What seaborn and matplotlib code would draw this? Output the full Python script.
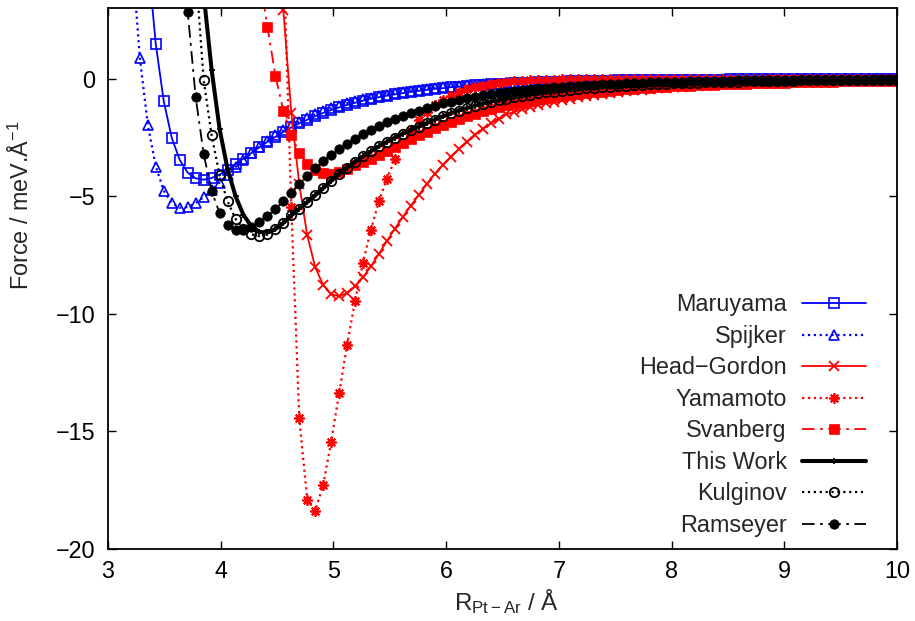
import numpy as np
import pandas as pd
import matplotlib
matplotlib.use("Agg")
import matplotlib.pyplot as plt
import seaborn as sns

nan = np.nan

# Sampling of the distance axis (gnuplot-style 100 samples from 3 to 10 Angstrom)
R_START, R_STOP, N_SAMPLES = 3.0, 10.0, 100

x_ticks = [3, 4, 5, 6, 7, 8, 9, 10]
y_ticks = [-20, -15, -10, -5, 0]

maruyama = [nan, nan, nan, nan, nan, 5.10, 1.45, -0.97, -2.52, -3.46,
            -4.00, -4.24, -4.30, -4.23, -4.08, -3.88, -3.65, -3.40, -3.16, -2.92,
            -2.69, -2.48, -2.27, -2.08, -1.91, -1.75, -1.60, -1.46, -1.34, -1.23,
            -1.12, -1.03, -0.94, -0.86, -0.79, -0.73, -0.67, -0.62, -0.57, -0.52,
            -0.48, -0.44, -0.41, -0.37, -0.35, -0.32, -0.29, -0.27, -0.25, -0.23,
            -0.22, -0.20, -0.19, -0.18, -0.16, -0.15, -0.14, -0.13, -0.12, -0.11,
            -0.11, -0.10, -0.09, -0.09, -0.08, -0.08, -0.07, -0.07, -0.06, -0.06,
            -0.06, -0.05, -0.05, -0.05, -0.04, -0.04, -0.04, -0.04, -0.03, -0.03,
            -0.03, -0.03, -0.03, -0.03, -0.02, -0.02, -0.02, -0.02, -0.02, -0.02,
            -0.02, -0.02, -0.01, -0.01, -0.01, -0.01, -0.01, -0.01, -0.01, -0.01]

spijker = [nan, nan, nan, 5.30, 0.87, -1.98, -3.74, -4.77, -5.29, -5.49,
           -5.46, -5.30, -5.04, -4.75, -4.42, -4.10, -3.77, -3.47, -3.17, -2.90,
           -2.65, -2.42, -2.20, -2.01, -1.83, -1.67, -1.52, -1.38, -1.26, -1.15,
           -1.05, -0.96, -0.88, -0.81, -0.74, -0.68, -0.62, -0.57, -0.52, -0.48,
           -0.44, -0.40, -0.37, -0.34, -0.32, -0.29, -0.27, -0.25, -0.23, -0.21,
           -0.20, -0.19, -0.17, -0.16, -0.15, -0.14, -0.13, -0.12, -0.11, -0.10,
           -0.10, -0.09, -0.09, -0.08, -0.07, -0.07, -0.07, -0.06, -0.06, -0.05,
           -0.05, -0.05, -0.04, -0.04, -0.04, -0.04, -0.04, -0.03, -0.03, -0.03,
           -0.03, -0.03, -0.03, -0.03, -0.02, -0.02, -0.02, -0.02, -0.02, -0.02,
           -0.02, -0.02, -0.01, -0.01, -0.01, -0.01, -0.01, -0.01, -0.01, -0.01]

head_gordon = [nan, nan, nan, nan, nan, nan, nan, nan, nan, nan,
               nan, nan, nan, nan, nan, nan, nan, nan, nan, nan,
               nan, 9.50, 2.90, -1.45, -4.50, -6.66, -8.02, -8.78, -9.17, -9.25,
               -9.12, -8.84, -8.45, -7.98, -7.45, -6.90, -6.38, -5.88, -5.40, -4.95,
               -4.48, -4.05, -3.67, -3.32, -3.00, -2.68, -2.39, -2.14, -1.91, -1.70,
               -1.52, -1.41, -1.31, -1.21, -1.13, -1.05, -0.98, -0.91, -0.85, -0.79,
               -0.74, -0.69, -0.65, -0.60, -0.57, -0.53, -0.50, -0.47, -0.44, -0.41,
               -0.39, -0.36, -0.34, -0.32, -0.30, -0.28, -0.27, -0.25, -0.24, -0.22,
               -0.21, -0.20, -0.19, -0.18, -0.17, -0.16, -0.15, -0.14, -0.14, -0.13,
               -0.12, -0.12, -0.11, -0.10, -0.10, -0.09, -0.09, -0.09, -0.08, -0.08]

yamamoto = [nan, nan, nan, nan, nan, nan, nan, nan, nan, nan,
            nan, nan, nan, nan, nan, nan, nan, nan, nan, nan,
            nan, nan, 5.50, -5.46, -14.45, -17.91, -18.37, -17.28, -15.44, -13.38,
            -11.33, -9.45, -7.82, -6.42, -5.21, -4.26, -3.44, -2.76, -2.21, -1.77,
            -1.41, -1.13, -0.90, -0.72, -0.58, -0.46, -0.37, -0.30, -0.24, -0.19,
            -0.15, -0.12, -0.10, -0.08, -0.06, -0.05, -0.04, -0.03, -0.03, -0.02,
            -0.02, -0.01, -0.01, -0.01, -0.01, -0.01, -0.01, -0.01, -0.01, -0.01,
            -0.01, 0.00, 0.00, 0.00, 0.00, 0.00, 0.00, 0.00, 0.00, 0.00,
            0.00, 0.00, 0.00, 0.00, 0.00, 0.00, 0.00, 0.00, 0.00, 0.00,
            0.00, 0.00, 0.00, 0.00, 0.00, 0.00, 0.00, 0.00, 0.00, 0.00]

svanberg = [nan, nan, nan, nan, nan, nan, nan, nan, nan, nan,
            nan, nan, nan, nan, nan, nan, nan, nan, nan, 4.40,
            2.21, 0.13, -1.36, -2.42, -3.15, -3.62, -3.88, -4.02, -4.05, -3.98,
            -3.84, -3.69, -3.55, -3.40, -3.25, -3.10, -2.93, -2.76, -2.59, -2.42,
            -2.26, -2.11, -1.97, -1.84, -1.71, -1.60, -1.49, -1.39, -1.30, -1.22,
            -1.14, -1.07, -1.00, -0.94, -0.88, -0.83, -0.78, -0.74, -0.69, -0.65,
            -0.62, -0.58, -0.55, -0.52, -0.49, -0.46, -0.44, -0.41, -0.39, -0.37,
            -0.35, -0.33, -0.32, -0.30, -0.29, -0.27, -0.26, -0.25, -0.23, -0.22,
            -0.21, -0.20, -0.19, -0.18, -0.17, -0.17, -0.16, -0.15, -0.14, -0.14,
            -0.13, -0.13, -0.12, -0.12, -0.11, -0.11, -0.10, -0.10, -0.09, -0.09]

this_work = [nan, nan, nan, nan, nan, nan, nan, nan, nan, nan,
             nan, nan, 3.60, 0.38, -2.14, -3.85, -5.00, -5.80, -6.28, -6.52,
             -6.55, -6.40, -6.14, -5.82, -5.53, -5.25, -4.97, -4.66, -4.35, -4.06,
             -3.80, -3.55, -3.31, -3.09, -2.88, -2.69, -2.51, -2.34, -2.18, -2.04,
             -1.90, -1.75, -1.61, -1.48, -1.36, -1.26, -1.16, -1.07, -0.99, -0.92,
             -0.85, -0.79, -0.73, -0.68, -0.63, -0.59, -0.55, -0.51, -0.48, -0.44,
             -0.41, -0.39, -0.36, -0.34, -0.32, -0.30, -0.28, -0.26, -0.24, -0.23,
             -0.22, -0.20, -0.19, -0.18, -0.17, -0.16, -0.15, -0.14, -0.13, -0.13,
             -0.12, -0.11, -0.11, -0.10, -0.09, -0.09, -0.09, -0.08, -0.08, -0.07,
             -0.07, -0.07, -0.06, -0.06, -0.06, -0.05, -0.05, -0.05, -0.05, -0.04]

kulginov = [nan, nan, nan, nan, nan, nan, nan, nan, nan, nan,
            nan, 4.60, -0.05, -2.42, -4.10, -5.22, -5.96, -6.40, -6.62, -6.70,
            -6.60, -6.40, -6.12, -5.82, -5.53, -5.25, -4.97, -4.66, -4.35, -4.06,
            -3.80, -3.55, -3.31, -3.09, -2.88, -2.69, -2.51, -2.34, -2.18, -2.04,
            -1.90, -1.75, -1.61, -1.48, -1.36, -1.26, -1.16, -1.07, -0.99, -0.92,
            -0.85, -0.79, -0.73, -0.68, -0.63, -0.59, -0.55, -0.51, -0.48, -0.44,
            -0.41, -0.39, -0.36, -0.34, -0.32, -0.30, -0.28, -0.26, -0.24, -0.23,
            -0.22, -0.20, -0.19, -0.18, -0.17, -0.16, -0.15, -0.14, -0.13, -0.13,
            -0.12, -0.11, -0.11, -0.10, -0.09, -0.09, -0.09, -0.08, -0.08, -0.07,
            -0.07, -0.07, -0.06, -0.06, -0.06, -0.05, -0.05, -0.05, -0.05, -0.04]

ramseyer = [nan, nan, nan, nan, nan, nan, nan, nan, nan, 9.00,
            2.84, -0.79, -3.20, -4.78, -5.72, -6.24, -6.45, -6.42, -6.30, -6.10,
            -5.85, -5.55, -5.20, -4.85, -4.50, -4.15, -3.82, -3.52, -3.24, -3.00,
            -2.77, -2.56, -2.36, -2.18, -2.01, -1.86, -1.72, -1.59, -1.47, -1.36,
            -1.26, -1.16, -1.06, -0.98, -0.90, -0.83, -0.77, -0.71, -0.66, -0.61,
            -0.57, -0.53, -0.49, -0.46, -0.42, -0.39, -0.37, -0.34, -0.32, -0.30,
            -0.28, -0.26, -0.24, -0.23, -0.21, -0.20, -0.19, -0.17, -0.16, -0.15,
            -0.14, -0.14, -0.13, -0.12, -0.11, -0.11, -0.10, -0.09, -0.09, -0.08,
            -0.08, -0.08, -0.07, -0.07, -0.06, -0.06, -0.06, -0.05, -0.05, -0.05,
            -0.05, -0.04, -0.04, -0.04, -0.04, -0.04, -0.03, -0.03, -0.03, -0.03]

series_names = ["Maruyama", "Spijker", "Head\u2212Gordon", "Yamamoto",
                "Svanberg", "This Work", "Kulginov", "Ramseyer"]
series_values = [maruyama, spijker, head_gordon, yamamoto,
                 svanberg, this_work, kulginov, ramseyer]

BLUE, RED, BLACK = "#0000ff", "#ff0000", "#000000"
dashdot = (0, (7, 3, 1.5, 3))
styles = {
    "Maruyama":  dict(color=BLUE, linestyle="-", linewidth=1.3, marker="s", markersize=6.8,
                      markerfacecolor="none", markeredgecolor=BLUE, markeredgewidth=1.2),
    "Spijker":   dict(color=BLUE, linestyle=":", linewidth=1.6, marker="^", markersize=7,
                      markerfacecolor="none", markeredgecolor=BLUE, markeredgewidth=1.2),
    "Head\u2212Gordon": dict(color=RED, linestyle="-", linewidth=1.3, marker="x", markersize=7,
                      markeredgecolor=RED, markeredgewidth=1.3),
    "Yamamoto":  dict(color=RED, linestyle=":", linewidth=1.6, marker=(8, 2, 0), markersize=7.5,
                      markeredgecolor=RED, markeredgewidth=1.3),
    "Svanberg":  dict(color=RED, linestyle=dashdot, linewidth=1.3, marker="s", markersize=6.8,
                      markerfacecolor=RED, markeredgecolor=RED, markeredgewidth=0.5),
    "This Work": dict(color=BLACK, linestyle="-", linewidth=2.9, marker="+", markersize=5,
                      markeredgecolor=BLACK, markeredgewidth=1.3),
    "Kulginov":  dict(color=BLACK, linestyle=":", linewidth=1.6, marker="o", markersize=6.8,
                      markerfacecolor="none", markeredgecolor=BLACK, markeredgewidth=1.3),
    "Ramseyer":  dict(color=BLACK, linestyle=dashdot, linewidth=1.3, marker="o", markersize=6.8,
                      markerfacecolor=BLACK, markeredgecolor=BLACK, markeredgewidth=0.5),
}

R = np.linspace(R_START, R_STOP, N_SAMPLES)
frames = []
for name, vals in zip(series_names, series_values):
    frames.append(pd.DataFrame({"R": R, "Force": vals, "Potential": name}))
df = pd.concat(frames, ignore_index=True)

sns.set_theme(style="ticks")
plt.rcParams["font.family"] = ["Liberation Sans", "DejaVu Sans"]
plt.rcParams["mathtext.fontset"] = "custom"
plt.rcParams["mathtext.rm"] = "Liberation Sans"
plt.rcParams["mathtext.it"] = "Liberation Sans:italic"
plt.rcParams["axes.unicode_minus"] = True

FS = 16.8
W, H = 915, 621
fig = plt.figure(figsize=(W / 100, H / 100), dpi=100)
ax = fig.add_axes([108 / W, 1 - 549 / H, (897 - 108) / W, (549 - 8) / H])

for name in series_names:
    sub = df[df["Potential"] == name]
    sns.lineplot(data=sub, x="R", y="Force", ax=ax, label=name,
                 estimator=None, sort=False, legend=False, **styles[name])

ax.set_xlim(R_START, R_STOP)
ax.set_ylim(-20, 3)
ax.set_xticks(x_ticks)
ax.set_yticks(y_ticks)
ax.tick_params(direction="in", length=6, width=1.0, top=True, right=True,
               labelsize=FS, colors="black")
ax.tick_params(axis="x", pad=8)
ax.tick_params(axis="y", pad=9)
for sp in ax.spines.values():
    sp.set_linewidth(1.3)
    sp.set_color("black")

ax.set_xlabel(r"R$_{\mathrm{Pt-Ar}}$ / Å", fontsize=17.4)
ax.set_ylabel(r"Force / meV.Å$^{-1}$", fontsize=FS)
ax.xaxis.set_label_coords(0.505, -0.071)
ax.yaxis.set_label_coords(-0.094, 0.635)

handles, labels = ax.get_legend_handles_labels()
leg = ax.legend(handles, labels, loc="lower right", frameon=False,
                markerfirst=False, fontsize=FS, handlelength=2.75,
                handletextpad=0.65, labelspacing=0.365, borderpad=0,
                borderaxespad=0, bbox_to_anchor=(866 / W, 1 - 537 / H),
                bbox_transform=fig.transFigure)

fig.savefig("out.png", dpi=100)
